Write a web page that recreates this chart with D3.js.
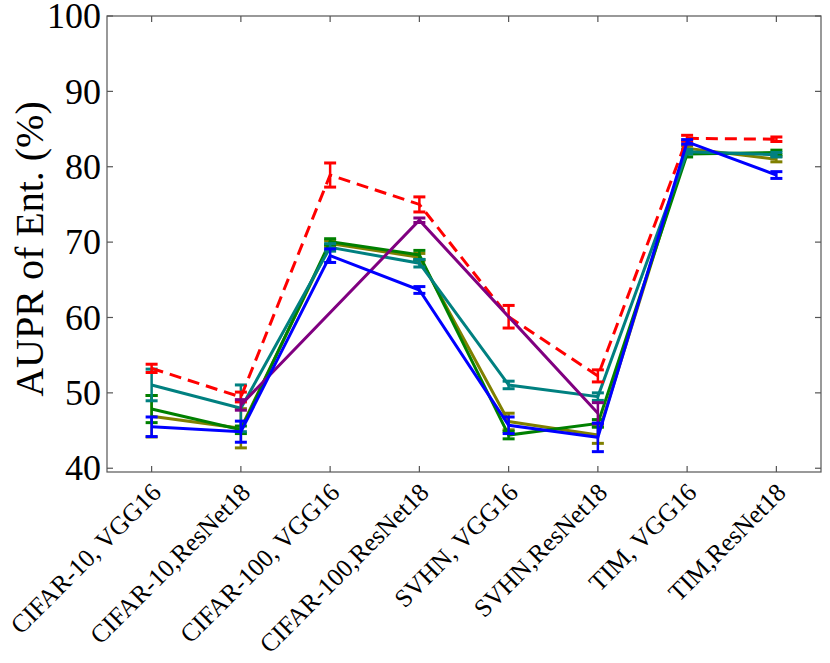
<!DOCTYPE html>
<meta charset="utf-8">
<style>
body { margin: 0; background: #fff; }
text { font-family: "Liberation Serif", "Times New Roman", serif; fill: #000; }
</style>
<body>
<svg width="830" height="663"></svg>
<script src="https://d3js.org/d3.v7.min.js"></script>
<script>

// categories on the x axis
var categories = ["CIFAR-10, VGG16", "CIFAR-10,ResNet18", "CIFAR-100, VGG16", "CIFAR-100,ResNet18",
                  "SVHN, VGG16", "SVHN,ResNet18", "TIM, VGG16", "TIM,ResNet18"];

// y ticks
var yTicks = [40, 50, 60, 70, 80, 90, 100];

// series values and error bars (null = no point)
var oliveVals  = [46.9, 45.3, 69.8, 68.0, 46.2, 44.4, 82.45, 81.0];
var oliveErr   = [2.75, 2.6, 0.4, 0.5, 1.1, 1.1, 0.3, 0.35];
var greenVals  = [47.85, 45.1, 70.05, 68.3, 44.4, 45.95, 81.7, 81.9];
var greenErr   = [1.8, 0.5, 0.4, 0.6, 0.5, 0.5, 0.4, 0.3];
var tealVals   = [51.05, 47.95, 69.3, 67.2, 51.05, 49.5, 82.0, 81.6];
var tealErr    = [2.1, 3.1, 0.5, 0.5, 0.5, 0.5, 0.3, 0.3];
var redVals    = [53.25, 49.45, 78.9, 75.0, 60.1, 52.25, 83.77, 83.65];
var redErr     = [0.55, 0.65, 1.6, 1.0, 1.5, 0.8, 0.4, 0.3];
var purpleVals = [null, 48.4, null, 72.9, null, 47.3, null, null];
var purpleErr  = [null, 0.7, null, 0.3, null, 1.4, null, null];
var blueVals   = [45.5, 44.85, 68.2, 63.65, 45.7, 44.1, 83.3, 78.9];
var blueErr    = [1.3, 1.4, 0.9, 0.45, 1.1, 1.9, 0.3, 0.45];

var series = [
  {color: "#808000", vals: oliveVals, err: oliveErr},
  {color: "#008000", vals: greenVals, err: greenErr},
  {color: "#008080", vals: tealVals, err: tealErr},
  {color: "#ff0000", vals: redVals, err: redErr, dash: "12,7"},
  {color: "#800080", vals: purpleVals, err: purpleErr},
  {color: "#0000ff", vals: blueVals, err: blueErr}
];

var svg = d3.select("svg"),
    pLeft = 107, pRight = 821, pTop = 16, pBottom = 472;

var x = d3.scaleLinear().domain([-0.5, 7.5]).range([pLeft, pRight]);
var y = d3.scaleLinear().domain([39.5, 100]).range([pBottom, pTop]);

// frame
svg.append("rect")
    .attr("x", pLeft).attr("y", pTop)
    .attr("width", pRight - pLeft).attr("height", pBottom - pTop)
    .attr("fill", "none").attr("stroke", "#555").attr("stroke-width", 1.2);

// inward ticks on all sides
var tk = 6;
var ticksG = svg.append("g").attr("stroke", "#555").attr("stroke-width", 1.2);
categories.forEach(function(c, i) {
  ticksG.append("line").attr("x1", x(i)).attr("x2", x(i)).attr("y1", pBottom).attr("y2", pBottom - tk);
  ticksG.append("line").attr("x1", x(i)).attr("x2", x(i)).attr("y1", pTop).attr("y2", pTop + tk);
});
yTicks.forEach(function(t) {
  ticksG.append("line").attr("x1", pLeft).attr("x2", pLeft + tk).attr("y1", y(t)).attr("y2", y(t));
  ticksG.append("line").attr("x1", pRight).attr("x2", pRight - tk).attr("y1", y(t)).attr("y2", y(t));
});

// y tick labels
svg.append("g").selectAll("text")
    .data(yTicks)
  .enter().append("text")
    .attr("x", 101)
    .attr("y", function(d) { return y(d); })
    .attr("dy", "0.34em")
    .attr("text-anchor", "end")
    .attr("font-size", 36)
    .text(function(d) { return d; });

// x tick labels, rotated 45
svg.append("g").selectAll("text")
    .data(categories)
  .enter().append("text")
    .attr("transform", function(d, i) { return "translate(" + (x(i) + 11) + "," + (pBottom + 22) + ") rotate(-45)"; })
    .attr("text-anchor", "end")
    .attr("font-size", 25.5)
    .text(function(d) { return d; });

// y axis label
svg.append("text")
    .attr("transform", "translate(43,249) rotate(-90)")
    .attr("text-anchor", "middle")
    .attr("font-size", 40)
    .text("AUPR of Ent. (%)");

// lines + error bars
var line = d3.line()
    .x(function(d) { return x(d.i); })
    .y(function(d) { return y(d.v); });

series.forEach(function(s) {
  var pts = s.vals.map(function(v, i) { return {i: i, v: v, e: s.err[i]}; })
                  .filter(function(d) { return d.v != null; });
  var g = svg.append("g");

  g.append("path")
      .datum(pts)
      .attr("d", line)
      .attr("fill", "none")
      .attr("stroke", s.color)
      .attr("stroke-width", 3)
      .attr("stroke-dasharray", s.dash || null);

  var eb = g.selectAll(".eb")
      .data(pts)
    .enter().append("g")
      .attr("stroke", s.color);

  eb.append("line")
      .attr("x1", function(d) { return x(d.i); })
      .attr("x2", function(d) { return x(d.i); })
      .attr("y1", function(d) { return y(d.v - d.e); })
      .attr("y2", function(d) { return y(d.v + d.e); })
      .attr("stroke-width", 2.5);

  [-1, 1].forEach(function(sgn) {
    eb.append("line")
        .attr("x1", function(d) { return x(d.i) - 6; })
        .attr("x2", function(d) { return x(d.i) + 6; })
        .attr("y1", function(d) { return y(d.v + sgn * d.e); })
        .attr("y2", function(d) { return y(d.v + sgn * d.e); })
        .attr("stroke-width", 3);
  });
});

</script>
</body>
